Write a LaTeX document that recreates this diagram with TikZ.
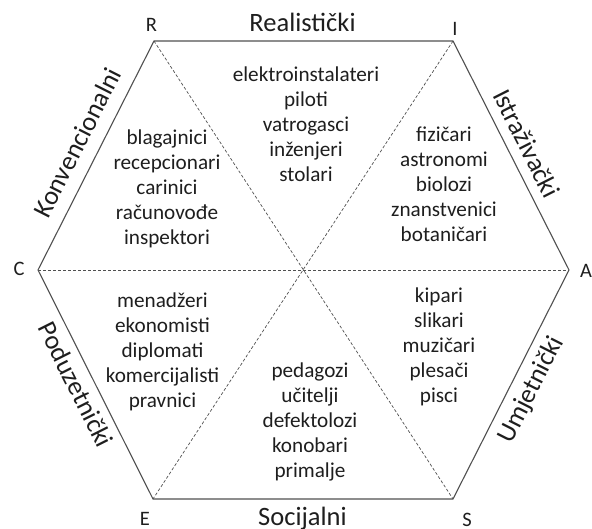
\documentclass[tikz,border=0pt]{standalone}
\usepackage{fontspec}
\setmainfont{Carlito}
\definecolor{edgecol}{HTML}{505050}
\definecolor{txtcol}{HTML}{1E1E1E}
\tikzset{
  hexedge/.style={draw=edgecol, line width=1.1pt, line join=miter},
  diag/.style={draw=edgecol, line width=0.7pt, dash pattern=on 3pt off 2pt},
  items/.style={anchor=base, align=center, text=txtcol, inner sep=0pt,
    font=\fontsize{21.2}{25}\selectfont},
  vlabel/.style={anchor=center, text=txtcol, inner sep=0pt,
    font=\fontsize{20.5}{25}\selectfont},
  slabel/.style={anchor=base, text=txtcol, inner sep=0pt,
    font=\fontsize{26.5}{30}\selectfont}
}
\begin{document}
\begin{tikzpicture}[x=1pt,y=1pt]
\useasboundingbox (0,0) rectangle (592,529);
% vertices
\coordinate (vR) at (154,488);
\coordinate (vI) at (453,488);
\coordinate (vA) at (569,259);
\coordinate (vS) at (453,30);
\coordinate (vE) at (153,30);
\coordinate (vC) at (38,259);
% diagonals
\draw[diag] (vR) -- (vS);
\draw[diag] (vI) -- (vE);
\draw[diag] (vC) -- (vA);
% hexagon
\draw[hexedge] (vR) -- (vI) -- (vA) -- (vS) -- (vE) -- (vC) -- cycle;
% vertex letters
\node[vlabel] (lR) at (151.5,504) {R};
\node[vlabel] (lI) at (455,500) {I};
\node[vlabel] (lA) at (586,258) {A};
\node[vlabel] (lC) at (19,260) {C};
\node[vlabel] (lE) at (145,10.5) {E};
\node[vlabel] (lS) at (467,9.5) {S};
% side labels
\node[slabel] (sR) at (302.5,497) {Realistički};
\node[slabel] (sS) at (302.5,3) {Socijalni};
\node[slabel, rotate=63.13] (sC) at (85.4,382.5) {Konvencionalni};
\node[slabel, rotate=-63.13] (sI) at (518.6,381.7) {Istraživački};
\node[slabel, rotate=63.13] (sA) at (537.6,135.7) {Umjetnički};
\node[slabel, rotate=-63.34] (sE) at (67.8,140.5) {Poduzetnički};
% occupation lists (base = baseline of last line)
\node[items] (tR) at (306,347) {elektroinstalateri\\piloti\\vatrogasci\\inženjeri\\stolari};
\node[items] (tC) at (167,284) {blagajnici\\recepcionari\\carinici\\računovođe\\inspektori};
\node[items] (tI) at (444,287) {fizičari\\astronomi\\biolozi\\znanstvenici\\botaničari};
\node[items] (tE) at (162.5,121) {menadžeri\\ekonomisti\\diplomati\\komercijalisti\\pravnici};
\node[items] (tS) at (310,51) {pedagozi\\učitelji\\defektolozi\\konobari\\primalje};
\node[items] (tA) at (439,126) {kipari\\slikari\\muzičari\\plesači\\pisci};
\end{tikzpicture}
\end{document}
